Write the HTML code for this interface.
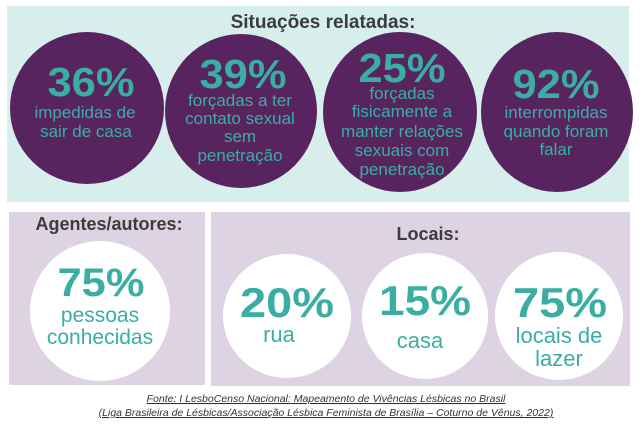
<!DOCTYPE html>
<html><head><meta charset="utf-8"><style>
html,body{margin:0;padding:0;background:#fff;}
svg{display:block;font-family:"Liberation Sans",sans-serif;}
.p{font-weight:bold;fill:#3aaea2;}
.s{fill:#3aaea2;}
.h{font-weight:bold;fill:#3c3c3c;}
</style></head><body>
<svg width="642" height="425" viewBox="0 0 642 425" xmlns="http://www.w3.org/2000/svg">
<rect x="7" y="6" width="622" height="196" fill="#d8eeec"/>
<text class="h" x="323" y="28" font-size="19" text-anchor="middle">Situações relatadas:</text>
<g fill="#58245f">
<ellipse cx="87" cy="108" rx="77" ry="76"/>
<ellipse cx="241" cy="111" rx="76" ry="77"/>
<ellipse cx="400" cy="112" rx="77" ry="80"/>
<ellipse cx="557" cy="112" rx="76" ry="80"/>
</g>
<g text-anchor="middle">
<text class="p" x="91" y="96" font-size="41" textLength="87" lengthAdjust="spacingAndGlyphs">36%</text>
<text class="s" font-size="17"><tspan x="85" y="118">impedidas de</tspan><tspan x="86" y="137">sair de casa</tspan></text>
<text class="p" x="243" y="88" font-size="41" textLength="87" lengthAdjust="spacingAndGlyphs">39%</text>
<text class="s" font-size="17"><tspan x="240" y="106">forçadas a ter</tspan><tspan x="240" y="124">contato sexual</tspan><tspan x="240" y="142">sem</tspan><tspan x="240" y="161">penetração</tspan></text>
<text class="p" x="402" y="82" font-size="41" textLength="87" lengthAdjust="spacingAndGlyphs">25%</text>
<text class="s" font-size="17"><tspan x="402" y="99">forçadas</tspan><tspan x="402" y="117">fisicamente a</tspan><tspan x="402" y="137">manter relações</tspan><tspan x="402" y="156">sexuais com</tspan><tspan x="402" y="175">penetração</tspan></text>
<text class="p" x="556" y="98" font-size="41" textLength="87" lengthAdjust="spacingAndGlyphs">92%</text>
<text class="s" font-size="17"><tspan x="556" y="118">interrompidas</tspan><tspan x="556" y="137">quando foram</tspan><tspan x="556" y="155">falar</tspan></text>
</g>
<rect x="9" y="212" width="196" height="173" fill="#ded3e2"/>
<rect x="211" y="212" width="419" height="174" fill="#ded3e2"/>
<g text-anchor="middle">
<text class="h" x="109" y="230" font-size="18">Agentes/autores:</text>
<text class="h" x="428" y="240" font-size="18">Locais:</text>
</g>
<g fill="#fff">
<ellipse cx="100" cy="311" rx="70" ry="70"/>
<ellipse cx="287" cy="316" rx="64" ry="62"/>
<ellipse cx="425" cy="316" rx="63" ry="63"/>
<ellipse cx="559" cy="316" rx="64" ry="64"/>
</g>
<g text-anchor="middle">
<text class="p" x="101" y="296" font-size="40" textLength="87" lengthAdjust="spacingAndGlyphs">75%</text>
<text class="s" font-size="21"><tspan x="100" y="322">pessoas</tspan><tspan x="100" y="344">conhecidas</tspan></text>
<text class="p" x="287" y="317" font-size="42" textLength="94" lengthAdjust="spacingAndGlyphs">20%</text>
<text class="s" x="279" y="342" font-size="22">rua</text>
<text class="p" x="425" y="315" font-size="42" textLength="92" lengthAdjust="spacingAndGlyphs">15%</text>
<text class="s" x="420" y="348" font-size="22">casa</text>
<text class="p" x="560" y="317" font-size="42" textLength="94" lengthAdjust="spacingAndGlyphs">75%</text>
<text class="s" font-size="22"><tspan x="559" y="343">locais de</tspan><tspan x="559" y="366">lazer</tspan></text>
</g>
<g text-anchor="middle" font-size="10.5" font-style="italic" fill="#333">
<text x="326" y="402" text-decoration="underline">Fonte:  I LesboCenso Nacional: Mapeamento de Vivências Lésbicas no Brasil</text>
<text x="326" y="416" text-decoration="underline">(Liga Brasileira de Lésbicas/Associação Lésbica Feminista de Brasília – Coturno de Vênus, 2022)</text>
</g>
</svg>
</body></html>
